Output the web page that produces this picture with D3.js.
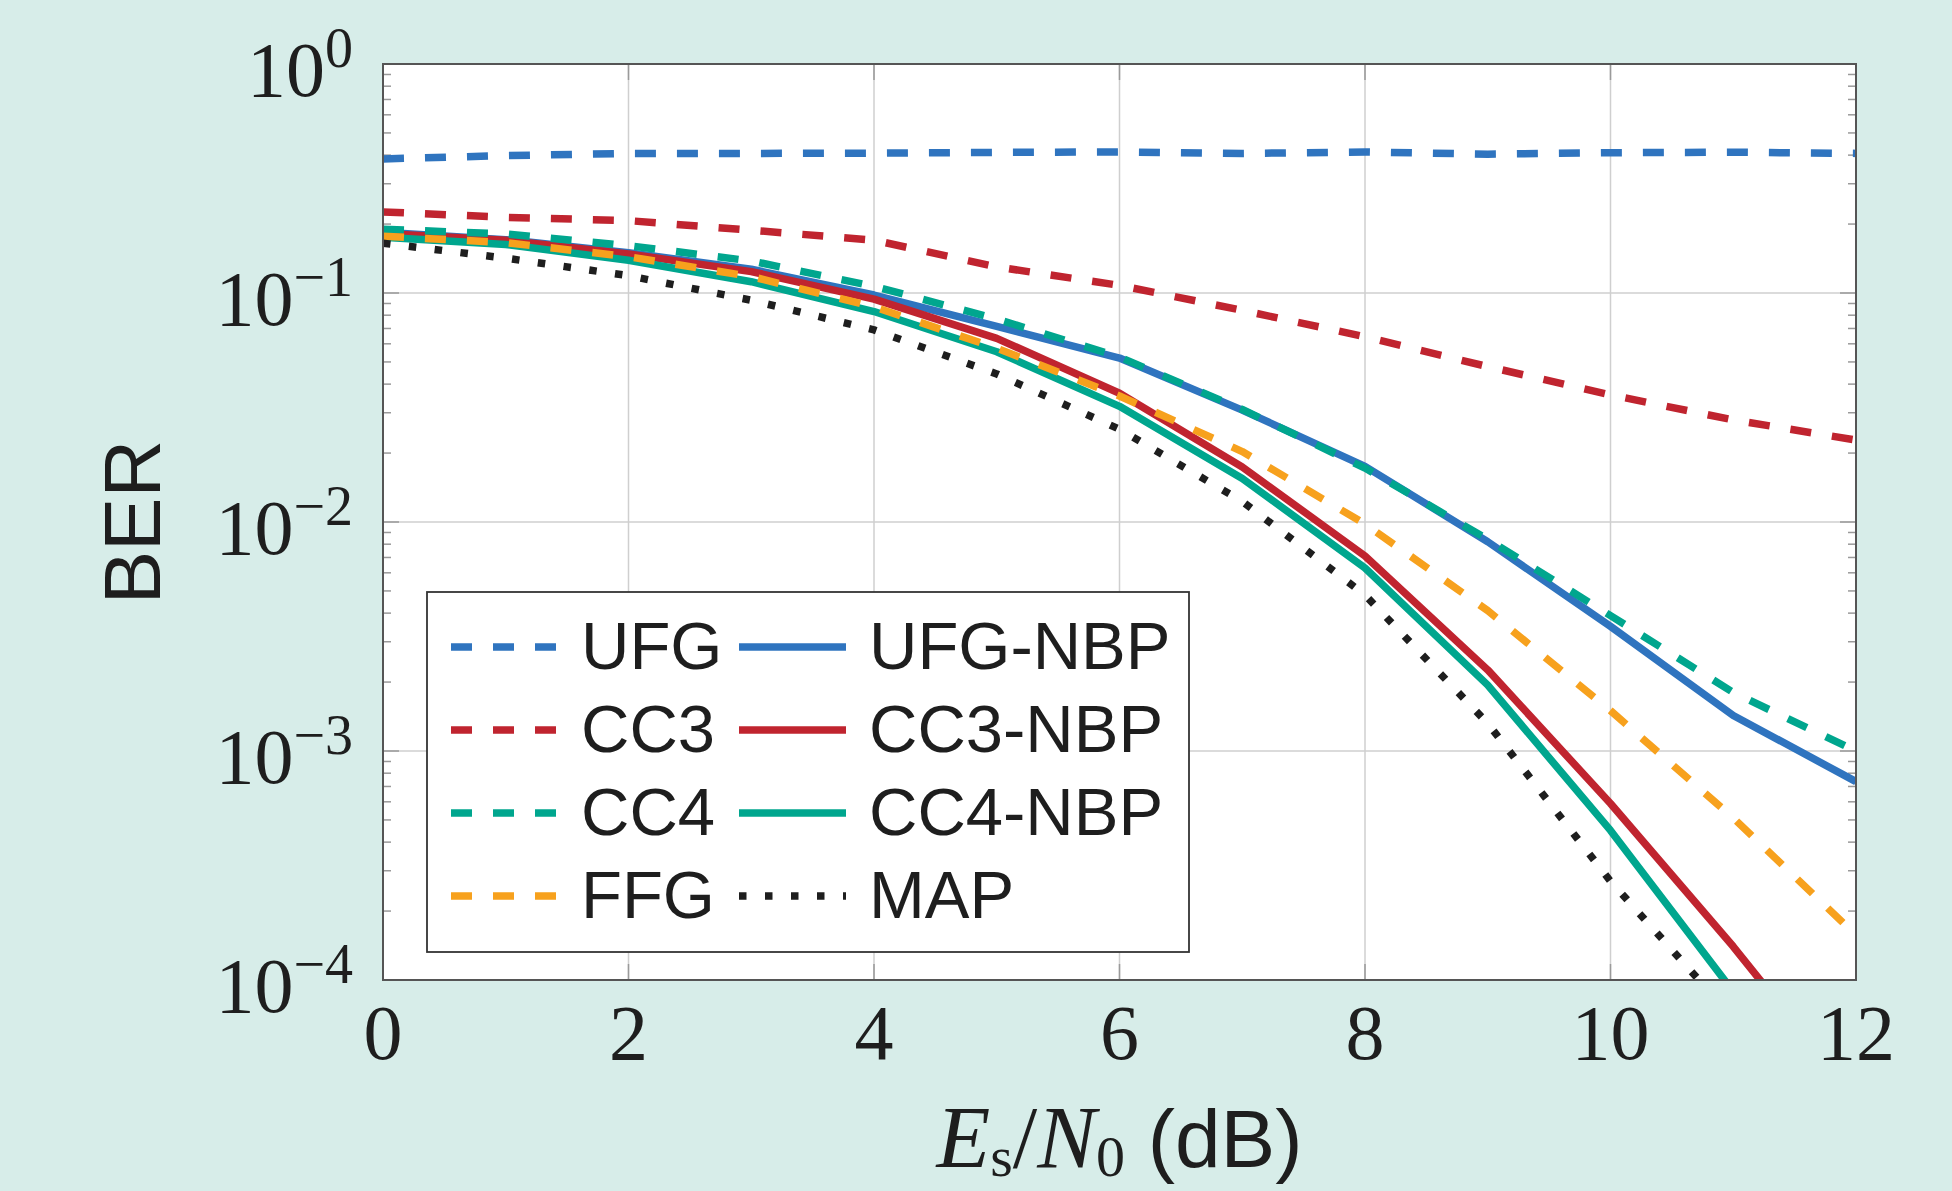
<!DOCTYPE html>
<html>
<head>
<meta charset="utf-8">
<script src="https://cdn.jsdelivr.net/npm/d3@7"></script>
<style>
  html, body { margin: 0; padding: 0; background: #d7ede9; }
  svg { display: block; }
</style>
</head>
<body>
<div id="chart"></div>
<script>
// Es/N0 grid (dB) and BER per scheme
const snr = [0, 1, 2, 3, 4, 5, 6, 7, 8, 9, 10, 11, 12];

const berUFG    = [0.385, 0.398, 0.407, 0.407, 0.408, 0.411, 0.413, 0.407, 0.413, 0.404, 0.41, 0.412, 0.407];
const berCC3    = [0.226, 0.214, 0.207, 0.188, 0.170, 0.130, 0.108, 0.084, 0.0644, 0.0477, 0.0359, 0.0279, 0.0228];
const berCC4    = [0.19, 0.181, 0.161, 0.138, 0.107, 0.077, 0.0525, 0.031, 0.0172, 0.0084, 0.0039, 0.0018, 0.001];
const berFFG    = [0.177, 0.166, 0.144, 0.118, 0.087, 0.0574, 0.0355, 0.0203, 0.0098, 0.0041, 0.0015, 0.00051, 0.000157];
const berUFGNBP = [0.184, 0.171, 0.150, 0.127, 0.098, 0.0715, 0.052, 0.0308, 0.0175, 0.0082, 0.0035, 0.00143, 0.000735];
const berCC3NBP = [0.182, 0.170, 0.148, 0.124, 0.094, 0.0634, 0.0365, 0.0174, 0.0071, 0.00226, 0.00059, 0.00014, 0.00003];
const berCC4NBP = [0.175, 0.163, 0.139, 0.112, 0.083, 0.0554, 0.032, 0.0155, 0.0063, 0.00194, 0.00045, 0.000089, 0.000018];
const berMAP    = [0.165, 0.142, 0.119, 0.093, 0.069, 0.0443, 0.0254, 0.0123, 0.0048, 0.00132, 0.00027, 0.000068, 0.000015];

const xTicks = [0, 2, 4, 6, 8, 10, 12];
const yTickExps = [0, -1, -2, -3, -4];

const COL = {
  blue: '#2f74bf',
  red: '#c0242f',
  teal: '#00a68e',
  orange: '#f7a11d',
  black: '#1e1e1e',
};

const W = 1952, H = 1191;
const M = { left: 383, right: 1856, top: 64, bottom: 980 };
const LW = 7.5;
const DASH = '21,21';
const DOT = '7.5,18.5';
const SERIF = '"Liberation Serif", "DejaVu Serif", serif';
const SANS = '"Liberation Sans", Arial, Helvetica, sans-serif';

// drawing order: solids first, dashed on top (as in the figure)
const series = [
  { name: 'UFG-NBP', data: berUFGNBP, color: COL.blue, dash: null },
  { name: 'CC3-NBP', data: berCC3NBP, color: COL.red, dash: null },
  { name: 'CC4-NBP', data: berCC4NBP, color: COL.teal, dash: null },
  { name: 'UFG', data: berUFG, color: COL.blue, dash: DASH },
  { name: 'CC3', data: berCC3, color: COL.red, dash: DASH },
  { name: 'CC4', data: berCC4, color: COL.teal, dash: DASH },
  { name: 'FFG', data: berFFG, color: COL.orange, dash: DASH },
  { name: 'MAP', data: berMAP, color: COL.black, dash: DOT },
];
// legend layout, two columns
const legendOrder = [['UFG', 'UFG-NBP'], ['CC3', 'CC3-NBP'], ['CC4', 'CC4-NBP'], ['FFG', 'MAP']];

const x = d3.scaleLinear().domain([0, 12]).range([M.left, M.right]);
const y = d3.scaleLog().domain([1e-4, 1]).range([M.bottom, M.top]);

const svg = d3.select('#chart').append('svg')
  .attr('width', W).attr('height', H)
  .attr('viewBox', `0 0 ${W} ${H}`);

svg.append('rect').attr('width', W).attr('height', H).attr('fill', '#d7ede9');

svg.append('defs').append('clipPath').attr('id', 'plotclip')
  .append('rect')
  .attr('x', M.left).attr('y', M.top)
  .attr('width', M.right - M.left).attr('height', M.bottom - M.top);

// Plot background
svg.append('rect')
  .attr('x', M.left).attr('y', M.top)
  .attr('width', M.right - M.left).attr('height', M.bottom - M.top)
  .attr('fill', '#fff');

// Grid
const grid = svg.append('g').attr('stroke', '#cfcfcf').attr('stroke-width', 1.5);
xTicks.forEach(t => {
  grid.append('line')
    .attr('x1', x(t)).attr('x2', x(t))
    .attr('y1', M.top).attr('y2', M.bottom);
});
yTickExps.forEach(e => {
  grid.append('line')
    .attr('x1', M.left).attr('x2', M.right)
    .attr('y1', y(10 ** e)).attr('y2', y(10 ** e));
});

// Minor log ticks on left and right edges
const ticks = svg.append('g').attr('stroke', '#9a9a9a').attr('stroke-width', 1.5);
for (let e = -4; e < 0; e++) {
  for (let k = 2; k <= 9; k++) {
    const yy = y(k * 10 ** e);
    ticks.append('line').attr('x1', M.left).attr('x2', M.left + 8).attr('y1', yy).attr('y2', yy);
    ticks.append('line').attr('x1', M.right - 8).attr('x2', M.right).attr('y1', yy).attr('y2', yy);
  }
}
yTickExps.forEach(e => {
  const yy = y(10 ** e);
  ticks.append('line').attr('x1', M.left).attr('x2', M.left + 16).attr('y1', yy).attr('y2', yy);
  ticks.append('line').attr('x1', M.right - 16).attr('x2', M.right).attr('y1', yy).attr('y2', yy);
});
xTicks.forEach(t => {
  ticks.append('line').attr('x1', x(t)).attr('x2', x(t)).attr('y1', M.bottom).attr('y2', M.bottom - 16);
  ticks.append('line').attr('x1', x(t)).attr('x2', x(t)).attr('y1', M.top).attr('y2', M.top + 16);
});

// Curves
const line = d3.line()
  .x((d, i) => x(snr[i]))
  .y(d => y(d));

const curves = svg.append('g').attr('clip-path', 'url(#plotclip)');
series.forEach(s => {
  curves.append('path')
    .datum(s.data)
    .attr('d', line)
    .attr('fill', 'none')
    .attr('stroke', s.color)
    .attr('stroke-width', LW)
    .attr('stroke-linejoin', 'round')
    .attr('stroke-dasharray', s.dash);
});

// Frame
svg.append('rect')
  .attr('x', M.left).attr('y', M.top)
  .attr('width', M.right - M.left).attr('height', M.bottom - M.top)
  .attr('fill', 'none').attr('stroke', '#555').attr('stroke-width', 2);

// Y tick labels: 10^e
yTickExps.forEach(e => {
  const t = svg.append('text')
    .attr('x', M.left - 30)
    .attr('y', y(10 ** e) + 32)
    .attr('text-anchor', 'end')
    .attr('font-family', SERIF)
    .attr('font-size', 78)
    .attr('fill', '#1e1e1e');
  t.append('tspan').text('10');
  t.append('tspan')
    .attr('dy', -29)
    .attr('font-size', 56)
    .text(e === 0 ? '0' : '\u2212' + Math.abs(e));
});

// X tick labels
xTicks.forEach(tk => {
  svg.append('text')
    .attr('x', x(tk)).attr('y', 1059)
    .attr('text-anchor', 'middle')
    .attr('font-family', SERIF)
    .attr('font-size', 78)
    .attr('fill', '#1e1e1e')
    .text(tk);
});

// Y axis label
svg.append('text')
  .attr('transform', `translate(160, ${(M.top + M.bottom) / 2}) rotate(-90)`)
  .attr('text-anchor', 'middle')
  .attr('font-family', SANS)
  .attr('font-size', 80)
  .attr('fill', '#1e1e1e')
  .text('BER');

// X axis label: E_s/N_0 (dB)
const xl = svg.append('text')
  .attr('x', (M.left + M.right) / 2).attr('y', 1167)
  .attr('text-anchor', 'middle')
  .attr('font-family', SERIF)
  .attr('font-size', 88)
  .attr('fill', '#1e1e1e');
xl.append('tspan').attr('font-style', 'italic').text('E');
xl.append('tspan').attr('font-size', 58).attr('dy', 9).text('s');
xl.append('tspan').attr('dy', -9).text('/');
xl.append('tspan').attr('font-style', 'italic').text('N');
xl.append('tspan').attr('font-size', 58).attr('dy', 9).text('0');
xl.append('tspan').attr('dy', -9).attr('font-family', SANS).attr('font-size', 82).text('\u00a0(dB)');

// Legend
const leg = svg.append('g');
leg.append('rect')
  .attr('x', 427).attr('y', 592)
  .attr('width', 762).attr('height', 360)
  .attr('fill', '#fff').attr('stroke', '#333').attr('stroke-width', 1.8);

const byName = Object.fromEntries(series.map(s => [s.name, s]));
const rowY = [647, 730, 813, 896];
const colLine = [451, 739];
const colText = [581, 869];
legendOrder.forEach((row, r) => {
  row.forEach((name, c) => {
    const s = byName[name];
    leg.append('line')
      .attr('x1', colLine[c]).attr('x2', colLine[c] + 107)
      .attr('y1', rowY[r]).attr('y2', rowY[r])
      .attr('stroke', s.color)
      .attr('stroke-width', LW)
      .attr('stroke-dasharray', s.dash);
    leg.append('text')
      .attr('x', colText[c]).attr('y', rowY[r] + 22)
      .attr('font-family', SANS)
      .attr('font-size', 67)
      .attr('fill', '#1e1e1e')
      .text(name);
  });
});
</script>
</body>
</html>
